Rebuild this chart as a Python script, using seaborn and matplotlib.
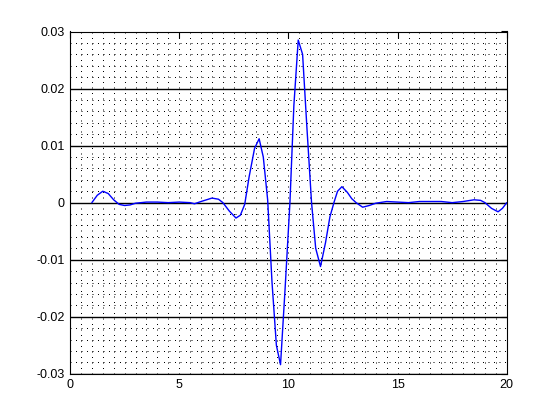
import numpy as np
import pandas as pd
import matplotlib
matplotlib.use("Agg")
import matplotlib.pyplot as plt
import seaborn as sns
from matplotlib.ticker import MultipleLocator

# values
t = [1.0, 1.25, 1.5, 1.75, 2.0, 2.25, 2.5, 2.75, 3.0, 3.5, 4.0, 4.5, 5.0, 5.5, 5.7,
     6.0, 6.5, 6.8, 7.0, 7.3, 7.6, 7.8, 8.0, 8.2, 8.45, 8.66, 8.85, 9.05, 9.25, 9.45,
     9.64, 9.85, 10.07, 10.25, 10.45, 10.65, 10.85, 11.06, 11.25, 11.47, 11.7, 11.9,
     12.1, 12.25, 12.45, 12.7, 12.9, 13.1, 13.4, 13.7, 14.0, 14.5, 15.0, 15.5, 16.0,
     16.5, 17.0, 17.5, 18.0, 18.5, 18.8, 19.0, 19.3, 19.6, 19.8, 20.0]
amp = [0.0, 0.0013, 0.0020, 0.0016, 0.0005, -0.0003, -0.0005, -0.0004, -0.0001, 0.0001,
       0.0001, 0.0, 0.0001, 0.0, -0.0002, 0.0002, 0.0008, 0.0006, 0.0, -0.0015, -0.0027,
       -0.0022, -0.0003, 0.0045, 0.0095, 0.0112, 0.0080, 0.0005, -0.0140, -0.0250,
       -0.0284, -0.0150, 0.0, 0.0170, 0.0285, 0.0260, 0.0130, 0.0, -0.0080, -0.0112,
       -0.0070, -0.0025, 0.0002, 0.0020, 0.0028, 0.0018, 0.0007, 0.0, -0.0008, -0.0005,
       -0.0001, 0.0002, 0.0001, 0.0, 0.0002, 0.0002, 0.0002, 0.0, 0.0002, 0.0005,
       0.0004, 0.0, -0.0010, -0.0016, -0.0010, 0.0]

xticks = [0, 5, 10, 15, 20]
yticks = [-0.03, -0.02, -0.01, 0, 0.01, 0.02, 0.03]
ylabels = ["-0.03", "-0.02", "-0.01", "0", "0.01", "0.02", "0.03"]

sns.set_style("white")
plt.rcParams['font.family'] = ['Liberation Sans', 'DejaVu Sans']

df = pd.DataFrame({"t": t, "amp": amp})

fig = plt.figure(figsize=(5.6, 4.2), dpi=100)
ax = fig.add_axes([0.125, 0.11, 0.78, 0.815])

# dotted minor grid, solid major lines on y only
dots = (0, (1, 4.5))
ax.xaxis.set_minor_locator(MultipleLocator(0.5))
ax.yaxis.set_minor_locator(MultipleLocator(0.002))
ax.grid(which="minor", axis="both", color="black", linestyle=dots, linewidth=0.72)
ax.grid(which="major", axis="x", color="black", linestyle=dots, linewidth=0.72)
ax.grid(which="major", axis="y", color="black", linestyle="-", linewidth=1.0)
ax.set_axisbelow(True)

sns.lineplot(data=df, x="t", y="amp", ax=ax, color="#0000ff", linewidth=1.0,
             sort=False, estimator=None)

ax.set_xlim(0, 20)
ax.set_ylim(-0.03, 0.03)
ax.set_xticks(xticks)
ax.set_xticklabels([str(v) for v in xticks])
ax.set_yticks(yticks)
ax.set_yticklabels(ylabels)
ax.set_xlabel("")
ax.set_ylabel("")

ax.tick_params(which="major", direction="in", length=4, width=0.8, top=True, right=True,
               labelsize=9, colors="black", pad=4)
ax.tick_params(which="minor", length=0)
for s in ax.spines.values():
    s.set_color("black")
    s.set_linewidth(0.8)

fig.savefig("out.png", dpi=100, facecolor="white")
